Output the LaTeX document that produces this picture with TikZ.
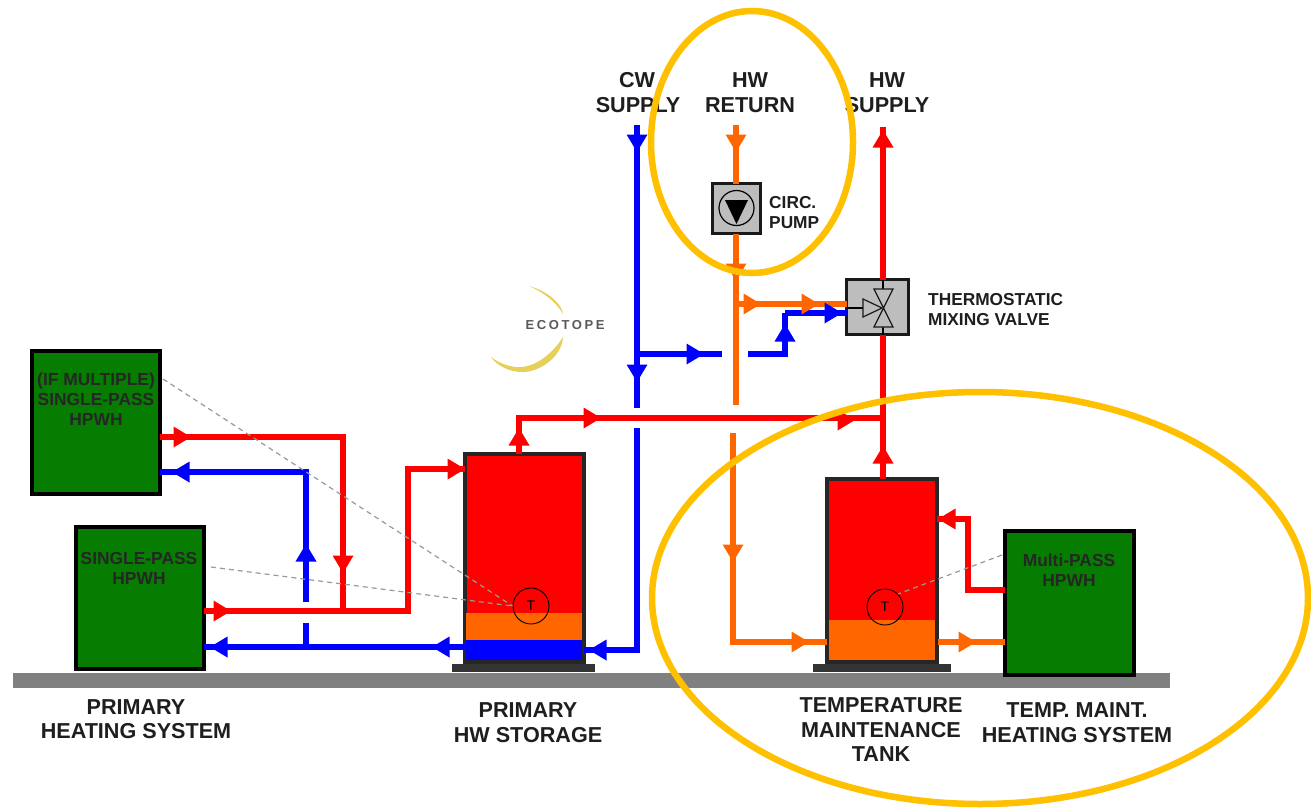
\documentclass[tikz,border=0pt]{standalone}
\usepackage{fontspec}
\setmainfont{Liberation Sans}
\newfontfamily\logofont[LetterSpace=20]{Liberation Sans}
\definecolor{pipered}{HTML}{FF0000}
\definecolor{pipeblue}{HTML}{0000FF}
\definecolor{pipeorange}{HTML}{FF6600}
\definecolor{hpgreen}{HTML}{067C00}
\definecolor{ringyellow}{HTML}{FFC000}
\definecolor{logoyellow}{HTML}{E6CF5A}
\definecolor{labelink}{HTML}{1E1E1E}
\definecolor{valvegray}{HTML}{BDBDBD}
\tikzset{
  pipe/.style={line width=5.8pt,line join=miter,draw=#1},
  hpwh/.style={draw=black,line width=4pt,fill=hpgreen,inner sep=0pt,outer sep=0pt},
  tank/.style={draw=black!85,line width=4pt,fill=pipered,inner sep=0pt,outer sep=0pt},
  stand/.style={fill=black!80,inner sep=0pt,outer sep=0pt},
  devicebox/.style={draw=black!90,line width=3.2pt,fill=valvegray,inner sep=0pt,outer sep=0pt},
  biglabel/.style={anchor=base,inner sep=0pt,text=labelink,font=\bfseries\fontsize{21.6}{23}\selectfont},
  boxlabel/.style={anchor=base,inner sep=0pt,text=black!85,font=\bfseries\fontsize{17.4}{18}\selectfont},
  sidelabel/.style={anchor=base west,inner sep=0pt,text=labelink,font=\bfseries\fontsize{17.3}{18}\selectfont},
  sensor/.style={circle,draw=black,line width=.9pt,minimum size=36pt,inner sep=0pt,font=\fontsize{14}{14}\selectfont},
  signal/.style={draw=black!40,line width=1.2pt,dash pattern=on 5pt off 4pt},
  ring/.style={draw=ringyellow,line width=6.5pt},
}
\newcommand{\pipemark}[4]{\fill[#1,shift={(#2,#3)},rotate=#4] (9,0)--(-8.5,10.5)--(-8.5,-10.5)--cycle;}
\begin{document}
\begin{tikzpicture}[x=1pt,y=-1pt]
\useasboundingbox (0,0) rectangle (1311,808);
\fill[white] (0,0) rectangle (1311,808);

% ground
\fill[black!50] (13,673) rectangle (1170,688);

% logo
\fill[logoyellow] (529,286) .. controls (550,292) and (562,305) .. (563,314) .. controls (557,303) and (545,293) .. cycle;
\fill[logoyellow] (563,337) .. controls (562,358) and (537,373) .. (522,372) .. controls (510,372) and (497,366) .. (491,357) .. controls (500,364) and (512,368) .. (522,367) .. controls (540,365) and (555,350) .. cycle;
\node[anchor=base,inner sep=0pt,text=black!65,font=\logofont\bfseries\fontsize{13}{13}\selectfont] (logo) at (565,329) {ECOTOPE};

% equipment
\node[hpwh,minimum width=128pt,minimum height=143pt] (hpa) at (95.5,422) {};
\node[hpwh,minimum width=128pt,minimum height=142pt] (hpb) at (139.5,597.5) {};
\node[hpwh,minimum width=129pt,minimum height=144pt] (hpc) at (1069,602.5) {};
\node[stand,minimum width=143pt,minimum height=8pt] (standa) at (523.5,668) {};
\node[stand,minimum width=138pt,minimum height=8pt] (standb) at (882,668) {};
\node[tank,minimum width=119pt,minimum height=208pt] (tanka) at (524,558) {};
\node[tank,minimum width=110pt,minimum height=183pt] (tankb) at (881.5,570.5) {};
\fill[pipeorange] (466,613) rectangle (582,640);
\fill[pipeblue] (466,640) rectangle (582,660);
\fill[pipeorange] (829,620) rectangle (935,660);

% reference points of the pipework
\coordinate (cwtop) at (637,125);
\coordinate (cwa) at (637,408);
\coordinate (cwb) at (637,428);
\coordinate (cwc) at (637,650);
\coordinate (cwj) at (637,354);
\coordinate (cwgapl) at (722,354);
\coordinate (cwgapr) at (748,354);
\coordinate (cwup) at (785,354);
\coordinate (cwin) at (785,313);
\coordinate (rettop) at (736,125);
\coordinate (reta) at (736,405);
\coordinate (retb) at (733,433);
\coordinate (retc) at (733,642);
\coordinate (retj) at (736,304);
\coordinate (suptop) at (883,127);
\coordinate (supj) at (883,418);
\coordinate (outa) at (519,418);
\coordinate (ra) at (343,437);
\coordinate (rb) at (343,611);
\coordinate (rc) at (408,611);
\coordinate (rd) at (408,469);
\coordinate (ba) at (306,472);
\coordinate (bb) at (306,602);
\coordinate (bc) at (306,623);
\coordinate (bd) at (306,647);
\coordinate (mpa) at (968,590);
\coordinate (mpb) at (968,519);
\coordinate (mpc) at (938,642);

% valve and pump shells
\node[devicebox,minimum width=62pt,minimum height=55pt] (valve) at (877.5,307) {};
\node[devicebox,minimum width=48pt,minimum height=50pt] (pump) at (736.5,208.5) {};

% pipes: hot
\draw[pipe=pipered] (suptop) -- (valve.north -| suptop);
\draw[pipe=pipered] (valve.south -| suptop) -- (tankb.north -| suptop);
\draw[pipe=pipered] (tanka.north -| outa) -- (outa) -- (supj);
\draw[pipe=pipered] (hpa.east |- ra) -- (ra) -- (rb);
\draw[pipe=pipered] (hpb.east |- rb) -- (rc) -- (rd) -- (tanka.west |- rd);
\draw[pipe=pipered] (hpc.west |- mpa) -- (mpa) -- (mpb) -- (tankb.east |- mpb);
% pipes: cold
\draw[pipe=pipeblue] (cwtop) -- (cwa);
\draw[pipe=pipeblue] (cwb) -- (cwc) -- (tanka.east |- cwc);
\draw[pipe=pipeblue] (cwj) -- (cwgapl);
\draw[pipe=pipeblue] (cwgapr) -- (cwup) -- (cwin);
\draw[pipe=pipeorange] (retj) -- (valve.west |- retj);
\draw[pipe=pipeblue] (cwin) -- (valve.west |- cwin);
\draw[pipe=pipeblue] (tanka.west |- bd) -- (hpb.east |- bd);
\draw[pipe=pipeblue] (bb) -- (ba) -- (hpa.east |- ba);
\draw[pipe=pipeblue] (bc) -- (bd);
% pipes: return
\draw[pipe=pipeorange] (rettop) -- (pump.north -| rettop);
\draw[pipe=pipeorange] (pump.south -| rettop) -- (reta);
\draw[pipe=pipeorange] (retb) -- (retc) -- (tankb.west |- retc);
\draw[pipe=pipeorange] (mpc) -- (hpc.west |- mpc);

% flow marks
\pipemark{pipeblue}{637}{143}{-90}
\pipemark{pipeblue}{637}{373}{-90}
\pipemark{pipeblue}{695}{354}{0}
\pipemark{pipeblue}{785}{333}{90}
\pipemark{pipeblue}{833}{313}{0}
\pipemark{pipeblue}{598}{650}{180}
\pipemark{pipeblue}{441}{647}{180}
\pipemark{pipeblue}{219}{647}{180}
\pipemark{pipeblue}{306}{553}{90}
\pipemark{pipeblue}{181}{472}{180}
\pipemark{pipeorange}{736}{143}{-90}
\pipemark{pipeorange}{736}{272}{-90}
\pipemark{pipeorange}{752}{304}{0}
\pipemark{pipeorange}{810}{304}{0}
\pipemark{pipeorange}{733}{553}{-90}
\pipemark{pipeorange}{800}{642}{0}
\pipemark{pipeorange}{967}{642}{0}
\pipemark{pipered}{883}{139}{90}
\pipemark{pipered}{883}{455}{90}
\pipemark{pipered}{519}{437}{90}
\pipemark{pipered}{592}{418}{0}
\pipemark{pipered}{846}{420}{0}
\pipemark{pipered}{182}{437}{0}
\pipemark{pipered}{343}{564}{-90}
\pipemark{pipered}{222}{611}{0}
\pipemark{pipered}{456}{469}{0}
\pipemark{pipered}{947}{519}{180}

% valve inside
\coordinate (vc) at (883,308);
\draw[black,line width=2pt] (valve.west |- vc) -- (863,308);
\draw[black,line width=2pt] (valve.north -| vc) -- (883,289);
\draw[black,line width=2pt] (valve.south -| vc) -- (883,327);
\draw[black!90,line width=1.2pt,fill=valvegray] (863,299) -- (882,308) -- (863,317) -- cycle;
\draw[black!90,line width=1.2pt,fill=valvegray] (874,289) -- (893,289) -- (883.5,308) -- (893,327) -- (874,327) -- (883.5,308) -- cycle;
% pump inside
\node[circle,draw=black,line width=1.2pt,minimum size=35pt,inner sep=0pt] (impeller) at (736.5,208) {};
\fill[black] (725,200) -- (748,200) -- (736.5,224) -- cycle;

% sensors
\node[sensor] (ta) at (531,606) {T};
\node[sensor] (tb) at (885,607) {T};
\coordinate (siga) at (163,379);
\coordinate (sigb) at (211,567);
\coordinate (sigc) at (1002,555);
\draw[signal] (siga) -- (ta.west);
\draw[signal] (sigb) -- (ta.west);
\draw[signal] (sigc) -- (tb.north east);

% labels
\node[biglabel] (l1a) at (637,87) {CW};
\node[biglabel] (l1b) at (638,112) {SUPPLY};
\node[biglabel] (l2a) at (750,87) {HW};
\node[biglabel] (l2b) at (750,112) {RETURN};
\node[biglabel] (l3a) at (887,87) {HW};
\node[biglabel] (l3b) at (887,112) {SUPPLY};
\node[sidelabel] (l4a) at (769,208) {CIRC.};
\node[sidelabel] (l4b) at (769,228) {PUMP};
\node[sidelabel] (l5a) at (928,305) {THERMOSTATIC};
\node[sidelabel] (l5b) at (928,325) {MIXING VALVE};
\node[boxlabel] (l6a) at (96,385) {(IF MULTIPLE)};
\node[boxlabel] (l6b) at (96,405) {SINGLE-PASS};
\node[boxlabel] (l6c) at (96,425) {HPWH};
\node[boxlabel] (l7a) at (139,564) {SINGLE-PASS};
\node[boxlabel] (l7b) at (139,584) {HPWH};
\node[boxlabel] (l8a) at (1069,566) {Multi-PASS};
\node[boxlabel] (l8b) at (1069,586) {HPWH};
\node[biglabel] (l9a) at (136,714) {PRIMARY};
\node[biglabel] (l9b) at (136,738) {HEATING SYSTEM};
\node[biglabel] (l10a) at (528,717) {PRIMARY};
\node[biglabel] (l10b) at (528,742) {HW STORAGE};
\node[biglabel] (l11a) at (881,712) {TEMPERATURE};
\node[biglabel] (l11b) at (881,737) {MAINTENANCE};
\node[biglabel] (l11c) at (881,761) {TANK};
\node[biglabel] (l12a) at (1077,717) {TEMP. MAINT.};
\node[biglabel] (l12b) at (1077,742) {HEATING SYSTEM};

% highlight rings
\draw[ring] (752,142) ellipse (101 and 131);
\draw[ring] (980,598) ellipse (328 and 206);
\end{tikzpicture}
\end{document}
